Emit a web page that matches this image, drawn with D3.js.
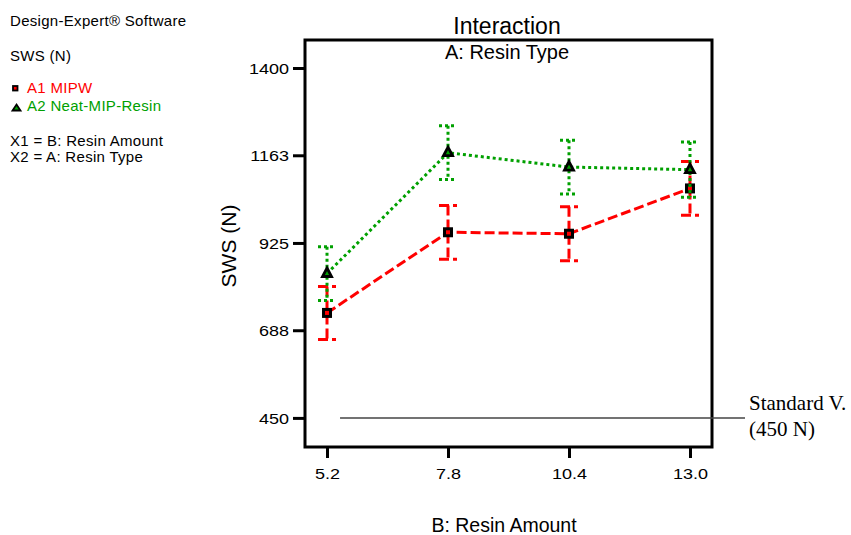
<!DOCTYPE html>
<html>
<head>
<meta charset="utf-8">
<script src="https://cdn.jsdelivr.net/npm/d3@7"></script>
<style>
  html, body { margin: 0; padding: 0; background: #fff; }
  svg { display: block; font-family: Arial, "Liberation Sans", sans-serif; }
</style>
</head>
<body>
<svg id="chart" width="851" height="535"></svg>
<script>
// Resin amount levels (factor B)
const resinAmount = [5.2, 7.8, 10.4, 13.0];
const xTickLabels = ["5.2", "7.8", "10.4", "13.0"];
// Y axis ticks
const yTicks = [450, 688, 925, 1163, 1400];

// Predicted SWS (N) for each resin type, with half LSD intervals
const mipwMeans = [735, 954, 950, 1073];
const mipwHalfLSD = [72, 73, 73, 73];
const neatMeans = [842, 1170, 1131, 1124];
const neatHalfLSD = [73, 73, 73, 75];

// Reference standard value
const standardValue = 450;

const RED = "#ff0000";
const GREEN = "#00a000";

const svg = d3.select("#chart");

const frame = { left: 305, right: 712, top: 40, bottom: 447 };

const x = d3.scaleLinear()
  .domain([4.727, 13.473])
  .range([frame.left, frame.right]);
const y = d3.scaleLinear()
  .domain([371, 1476])
  .range([frame.bottom, frame.top]);

// Left-hand annotation block
const info = svg.append("g").attr("font-size", 15).attr("letter-spacing", 0.3).attr("fill", "#000");
info.append("text").attr("x", 10).attr("y", 26).text("Design-Expert® Software");
info.append("text").attr("x", 10).attr("y", 61).text("SWS (N)");
info.append("rect").attr("x", 13).attr("y", 86).attr("width", 4.5).attr("height", 4.5)
  .attr("fill", RED).attr("stroke", "#000").attr("stroke-width", 1.8);
info.append("text").attr("x", 27).attr("y", 93).attr("fill", RED).text("A1 MIPW");
info.append("path").attr("d", "M16.5,104.5 L20.5,110.5 L12.5,110.5 Z")
  .attr("fill", GREEN).attr("stroke", "#000").attr("stroke-width", 1.8);
info.append("text").attr("x", 27).attr("y", 111).attr("fill", GREEN).text("A2 Neat-MIP-Resin");
info.append("text").attr("x", 10).attr("y", 146).text("X1 = B: Resin Amount");
info.append("text").attr("x", 10).attr("y", 162).text("X2 = A: Resin Type");

// Titles
svg.append("text").attr("x", 507).attr("y", 34).attr("text-anchor", "middle")
  .attr("font-size", 23).text("Interaction");
svg.append("text").attr("x", 507).attr("y", 59).attr("text-anchor", "middle")
  .attr("font-size", 20).text("A: Resin Type");

// Tick labels are drawn slightly wide
const TICK_STRETCH = 1.2;

// Axes
const yAxis = d3.axisLeft(y).tickValues(yTicks).tickSize(12).tickPadding(0)
  .tickFormat(d3.format("d"));
const gy = svg.append("g").attr("transform", `translate(${frame.left},0)`).call(yAxis);
gy.select(".domain").remove();
gy.selectAll(".tick line").attr("stroke", "#000").attr("stroke-width", 3);
gy.selectAll(".tick text")
  .attr("font-size", 15).attr("font-family", "Arial, 'Liberation Sans', sans-serif")
  .attr("x", null).attr("dy", "0.36em")
  .attr("transform", `translate(-16,0) scale(${TICK_STRETCH},1)`);

const xAxis = d3.axisBottom(x).tickValues(resinAmount).tickSize(11).tickPadding(0)
  .tickFormat((d, i) => xTickLabels[i]);
const gx = svg.append("g").attr("transform", `translate(0,${frame.bottom})`).call(xAxis);
gx.select(".domain").remove();
gx.selectAll(".tick line").attr("stroke", "#000").attr("stroke-width", 3);
gx.selectAll(".tick text")
  .attr("font-size", 15).attr("font-family", "Arial, 'Liberation Sans', sans-serif")
  .attr("y", null).attr("dy", null)
  .attr("transform", `translate(0,32) scale(${TICK_STRETCH},1)`);

// Plot frame
svg.append("rect")
  .attr("x", frame.left).attr("y", frame.top)
  .attr("width", frame.right - frame.left).attr("height", frame.bottom - frame.top)
  .attr("fill", "none").attr("stroke", "#000").attr("stroke-width", 3);

// Axis titles
svg.append("text").attr("transform", "translate(236,246) rotate(-90)")
  .attr("text-anchor", "middle").attr("font-size", 21).text("SWS (N)");
svg.append("text").attr("x", 504).attr("y", 532).attr("text-anchor", "middle")
  .attr("font-size", 19.5).text("B: Resin Amount");

// Standard value line and note
svg.append("line")
  .attr("x1", x(5.48)).attr("x2", 745)
  .attr("y1", y(standardValue)).attr("y2", y(standardValue))
  .attr("stroke", "#444").attr("stroke-width", 1.5);
const note = svg.append("g").attr("font-family", "'Liberation Serif', 'Times New Roman', serif")
  .attr("font-size", 21).attr("fill", "#000");
note.append("text").attr("x", 749).attr("y", 410).text("Standard V.");
note.append("text").attr("x", 749).attr("y", 436).text("(450 N)");

// Series drawing: error bars, connecting line, markers
function drawSeries(means, half, color, dash, marker) {
  const g = svg.append("g");
  const pts = resinAmount.map((b, i) => ({ b, m: means[i], h: half[i] }));

  pts.forEach(p => {
    const cx = x(p.b), yt = y(p.m + p.h), yb = y(p.m - p.h);
    g.append("line").attr("x1", cx).attr("x2", cx).attr("y1", yt).attr("y2", yb)
      .attr("stroke", color).attr("stroke-width", 3).attr("stroke-dasharray", dash);
    [yt, yb].forEach(yy => {
      g.append("line").attr("x1", cx - 9).attr("x2", cx + 9).attr("y1", yy).attr("y2", yy)
        .attr("stroke", color).attr("stroke-width", 3).attr("stroke-dasharray", dash);
    });
  });

  const line = d3.line().x(p => x(p.b)).y(p => y(p.m));
  g.append("path").datum(pts).attr("d", line)
    .attr("fill", "none").attr("stroke", color).attr("stroke-width", 3)
    .attr("stroke-dasharray", dash);

  pts.forEach(p => {
    const cx = x(p.b), cy = y(p.m);
    if (marker === "square") {
      g.append("rect").attr("x", cx - 3.5).attr("y", cy - 3.5).attr("width", 7).attr("height", 7)
        .attr("fill", color).attr("stroke", "#000").attr("stroke-width", 3);
    } else {
      g.append("path").attr("d", `M${cx},${cy - 5.5} L${cx + 4.5},${cy + 3} L${cx - 4.5},${cy + 3} Z`)
        .attr("fill", color).attr("stroke", "#000").attr("stroke-width", 2.8)
        .attr("stroke-linejoin", "miter");
    }
  });
}

drawSeries(mipwMeans, mipwHalfLSD, RED, "10,4", "square");
drawSeries(neatMeans, neatHalfLSD, GREEN, "3,3", "triangle");
</script>
</body>
</html>
